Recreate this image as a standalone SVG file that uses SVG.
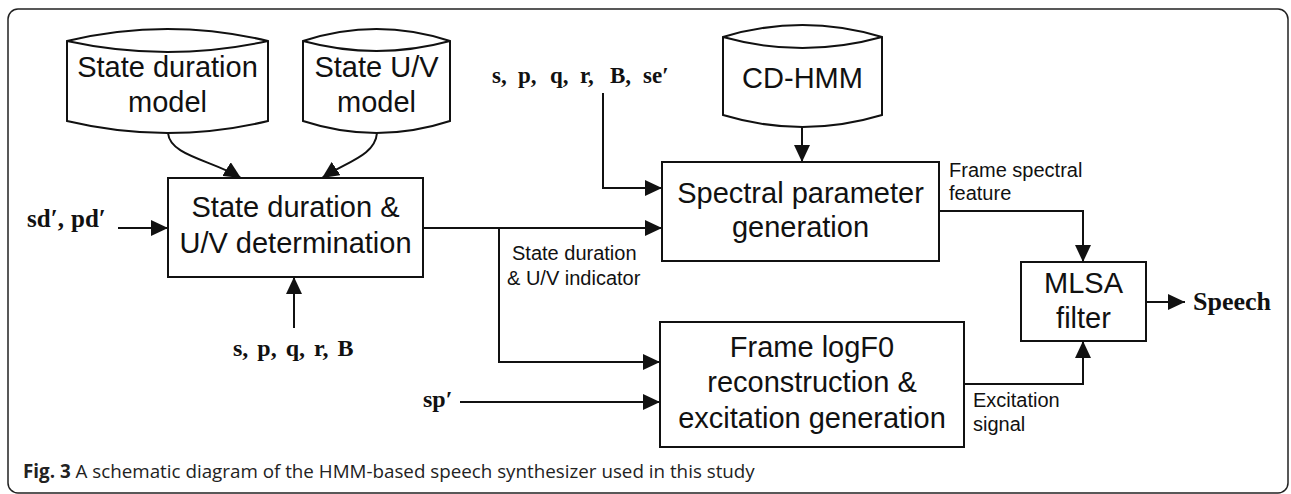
<svg xmlns="http://www.w3.org/2000/svg" width="1291" height="494" viewBox="0 0 1291 494">
  <style>
    .shape { fill: #fff; stroke: #111; stroke-width: 2; }
    .wire { fill: none; stroke: #111; stroke-width: 2; }
    .lbl { font-family: "Liberation Sans", Arial, sans-serif; font-size: 29px; fill: #111; text-anchor: middle; }
    .small { font-family: "Liberation Sans", Arial, sans-serif; font-size: 20px; fill: #111; }
    .sym { font-family: "Liberation Serif", "Times New Roman", serif; font-weight: bold; fill: #111; }
    .cap { font-family: "Open Sans", "Noto Sans", sans-serif; font-size: 18.8px; fill: #222; }
  </style>
  <defs>
    <marker id="arrow" markerUnits="userSpaceOnUse" markerWidth="18" markerHeight="16" refX="17" refY="8" orient="auto">
      <path d="M0,0 L17,8 L0,16 z" fill="#111"/>
    </marker>
  </defs>

  <rect x="0" y="0" width="1291" height="494" fill="#fff"/>
  <!-- outer frame -->
  <rect x="8" y="9" width="1280" height="484" rx="10" fill="none" stroke="#222" stroke-width="1.5"/>

  <!-- model stores -->
  <g id="state-duration-model">
    <path class="shape" d="M67,41 Q167.5,17 268,41 L268,121 Q167.5,145 67,121 Z"/>
    <path class="wire" d="M67,41 Q167.5,63 268,41"/>
    <text class="lbl" x="167.5" y="77">State duration</text>
    <text class="lbl" x="167.5" y="112">model</text>
  </g>
  <g id="state-uv-model">
    <path class="shape" d="M303,41 Q376.5,17 450,41 L450,121 Q376.5,145 303,121 Z"/>
    <path class="wire" d="M303,41 Q376.5,61 450,41"/>
    <text class="lbl" x="376.5" y="77">State U/V</text>
    <text class="lbl" x="376.5" y="112">model</text>
  </g>
  <g id="cd-hmm">
    <path class="shape" d="M723,37 Q802.5,13 882,37 L882,115 Q802.5,139 723,115 Z"/>
    <path class="wire" d="M723,37 Q802.5,59 882,37"/>
    <text class="lbl" x="802.5" y="88">CD-HMM</text>
  </g>

  <!-- processing blocks -->
  <g id="duration-uv">
    <rect class="shape" x="168" y="178" width="255" height="99"/>
    <text class="lbl" x="295.5" y="217">State duration &amp;</text>
    <text class="lbl" x="295.5" y="253">U/V determination</text>
  </g>
  <g id="spectral-generation">
    <rect class="shape" x="662" y="162" width="277" height="99"/>
    <text class="lbl" x="800.5" y="203">Spectral parameter</text>
    <text class="lbl" x="800.5" y="237">generation</text>
  </g>
  <g id="logf0-excitation">
    <rect class="shape" x="660" y="322" width="304" height="125"/>
    <text class="lbl" x="812" y="357">Frame logF0</text>
    <text class="lbl" x="812" y="392">reconstruction &amp;</text>
    <text class="lbl" x="812" y="428">excitation generation</text>
  </g>
  <g id="mlsa-filter">
    <rect class="shape" x="1021" y="262" width="125" height="79"/>
    <text class="lbl" x="1083.5" y="293">MLSA</text>
    <text class="lbl" x="1083.5" y="328">filter</text>
  </g>

  <!-- inputs and outputs -->
  <g id="in-sd-pd">
    <text class="sym" font-size="25" y="227"><tspan x="27">sd′,</tspan><tspan x="71">pd′</tspan></text>
  </g>
  <g id="in-context">
    <text class="sym" font-size="24" x="233" y="356" word-spacing="3">s, p, q, r, B</text>
  </g>
  <g id="in-context-se">
    <text class="sym" font-size="23" y="83"><tspan x="492">s,</tspan><tspan x="518">p,</tspan><tspan x="550">q,</tspan><tspan x="580">r,</tspan><tspan x="610">B,</tspan><tspan x="643">se′</tspan></text>
  </g>
  <g id="in-sp">
    <text class="sym" font-size="24" x="423" y="407">sp′</text>
  </g>
  <g id="out-speech">
    <text class="sym" font-size="26" x="1193" y="310">Speech</text>
  </g>

  <!-- connectors -->
  <g id="connectors">
    <path class="wire" d="M168,133 C170,156 212,160 241,178" marker-end="url(#arrow)"/>
    <path class="wire" d="M377,133 C375,156 346,162 322,178" marker-end="url(#arrow)"/>
    <path class="wire" d="M118,228 L168,228" marker-end="url(#arrow)"/>
    <path class="wire" d="M294,328 L294,277" marker-end="url(#arrow)"/>
    <path class="wire" d="M423,228 L662,228" marker-end="url(#arrow)"/>
    <path class="wire" d="M499,228 L499,362 L660,362" marker-end="url(#arrow)"/>
    <path class="wire" d="M460,402 L660,402" marker-end="url(#arrow)"/>
    <path class="wire" d="M603,93 L603,188 L662,188" marker-end="url(#arrow)"/>
    <path class="wire" d="M802,127 L802,162" marker-end="url(#arrow)"/>
    <path class="wire" d="M939,211 L1083,211 L1083,262" marker-end="url(#arrow)"/>
    <path class="wire" d="M964,384 L1083,384 L1083,341" marker-end="url(#arrow)"/>
    <path class="wire" d="M1146,302 L1185,302" marker-end="url(#arrow)"/>
    <text class="small" x="512" y="260">State duration</text>
    <text class="small" x="507" y="285">&amp; U/V indicator</text>
    <text class="small" x="949" y="177">Frame spectral</text>
    <text class="small" x="949" y="200">feature</text>
    <text class="small" x="973" y="407">Excitation</text>
    <text class="small" x="973" y="431">signal</text>
  </g>

  <!-- caption -->
  <text class="cap" x="23" y="478"><tspan font-weight="bold">Fig. 3</tspan> A schematic diagram of the HMM-based speech synthesizer used in this study</text>
</svg>
